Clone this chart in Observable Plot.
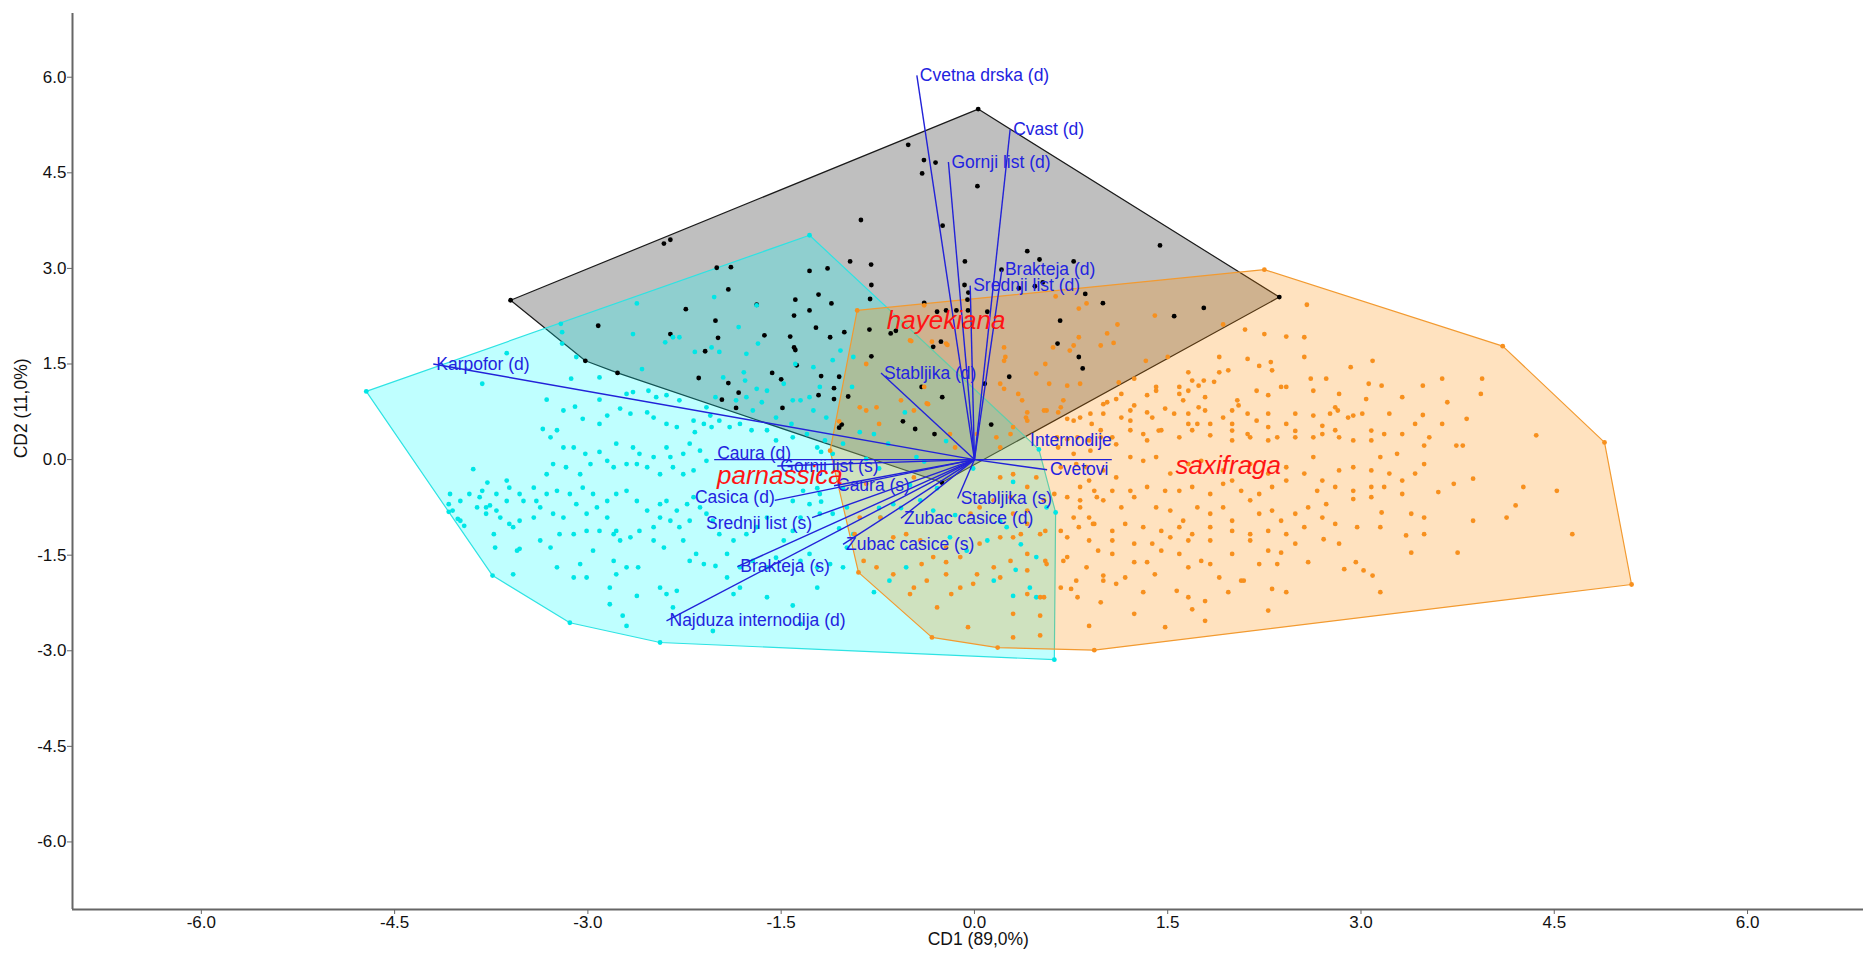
<!DOCTYPE html>
<html>
<head>
<meta charset="utf-8">
<script src="https://cdn.jsdelivr.net/npm/d3@7"></script>
<script src="https://cdn.jsdelivr.net/npm/@observablehq/plot@0.6"></script>
<style>
  html, body { margin: 0; padding: 0; background: #fff; }
  #chart svg { display: block; }
</style>
</head>
<body>
<div id="chart"></div>
<script>
// Canonical discriminant scores (CD1, CD2) for each specimen, by taxon
const hayekiana = [
  [-0.514,4.94],[-0.392,4.70],[-0.302,4.66],[-0.406,4.49],[0.023,4.29],[-0.881,3.76],[-0.247,3.67],[-2.41,3.39],[-2.36,3.45],[-0.965,3.11],
  [-0.802,3.06],[-0.074,3.11],[-2.00,3.01],[-1.89,3.02],[-1.28,2.96],[-1.14,3.00],[-0.80,2.74],[-0.077,2.74],[-1.91,2.67],[-1.21,2.59],
  [-0.81,2.52],[-1.39,2.51],[-1.11,2.45],[-1.69,2.43],[-0.39,2.46],[-0.29,2.32],[-1.40,2.26],[-1.28,2.34],[-0.22,2.34],[-0.14,2.34],
  [0.10,2.32],[-2.24,2.36],[-2.92,2.10],[-2.01,2.18],[-1.23,2.07],[-1.12,1.92],[-0.815,2.04],[-1.01,2.00],[-2.36,1.97],[-1.99,1.91],
  [-1.63,1.95],[-1.43,1.93],[-1.40,1.76],[-1.39,1.72],[-0.61,2.02],[-0.65,1.98],[-0.32,1.77],[-2.09,1.70],[-0.80,1.62],[-1.38,1.48],
  [-3.02,1.55],[-2.77,1.36],[-2.14,1.28],[-1.57,1.36],[-1.50,1.26],[-1.91,1.20],[-1.19,1.31],[-1.05,1.30],[-0.41,1.14],[-0.25,0.98],
  [0.08,1.19],[0.27,1.30],[-1.83,1.05],[-1.96,0.94],[-1.09,1.12],[-1.09,0.95],[-1.21,1.01],[-1.85,0.81],[-1.49,0.81],[-0.98,0.99],
  [-0.555,0.60],[-0.46,0.48],[-0.31,0.40],[0.13,0.55],[-1.03,0.55],[-1.05,0.50],
  [0.41,3.27],[0.505,3.14],[0.77,3.11],[0.21,2.98],[-0.047,2.62],[-0.054,2.51],[0.345,2.69],[0.469,2.72],[0.53,2.78],[0.86,2.60],
  [0.997,2.455],[-0.05,2.34],[0.665,2.18],[0.645,1.82],[-0.26,1.85],[0.81,1.61],
  [1.44,3.36],[1.55,2.25],[1.78,2.38],[2.366,2.55],[0.84,1.43],
  [0.029,5.50],[-3.60,2.50],[-0.253,-0.36]
];

const parnassica = [
  [-3.20,2.00],[-2.65,1.97],[-2.40,1.84],[-2.34,1.92],[-2.17,1.69],[-2.04,1.76],[-1.98,1.69],[-1.77,1.66],[-1.68,1.82],[-1.69,2.42],
  [-2.62,2.45],[-1.39,1.50],[-1.35,0.93],[-1.79,1.37],[-1.78,1.24],[-1.95,1.29],[-1.69,1.11],[-1.61,1.08],[-1.48,1.19],[-1.41,0.93],
  [-1.28,0.98],[-1.20,1.14],[-1.25,1.45],[-1.10,1.56],[-0.94,1.61],[-1.04,1.71],[-0.95,1.14],[-1.72,0.77],[-1.65,0.90],[-1.54,0.66],
  [-1.42,0.56],[-1.25,0.77],[-1.15,0.66],[-1.77,0.98],[-1.85,0.93],[-2.01,0.98],[-2.08,0.82],[-2.05,0.69],[-1.98,0.61],[-1.90,0.51],
  [-1.82,0.56],[-1.73,0.46],[-1.61,0.46],[-1.54,0.30],[-1.41,0.35],[-1.30,0.40],[-1.22,0.19],[-1.16,0.30],[-1.10,0.09],[-1.02,0.25],
  [-3.63,1.67],[-3.20,1.82],[-3.09,1.61],[-2.91,1.29],[-3.13,1.27],[-2.58,1.42],[-3.82,1.19],[-3.32,0.94],[-3.19,0.77],[-3.10,0.83],
  [-2.91,0.94],[-2.70,1.03],[-2.65,1.06],[-2.53,1.08],[-2.47,0.98],[-2.39,1.01],[-2.29,0.93],[-2.18,0.61],[-2.10,0.56],[-2.04,0.51],
  [-2.17,0.43],[-2.31,0.51],[-2.39,0.56],[-2.49,0.66],[-2.54,0.74],[-2.67,0.72],[-2.75,0.80],[-2.85,0.69],[-2.91,0.56],[-3.04,0.64],
  [-3.24,0.46],[-3.35,0.48],[-3.29,0.35],[-3.19,0.19],[-3.11,0.19],[-3.02,0.09],[-2.91,0.12],[-2.78,0.25],[-2.65,0.19],[-2.60,0.09],
  [-2.49,0.04],[-2.39,0.19],[-2.36,0.04],[-2.26,0.09],[-2.21,0.25],[-2.13,0.14],[-2.08,-0.02],[-2.18,-0.17],[-2.26,-0.23],[-2.34,-0.12],
  [-2.44,-0.23],[-2.54,-0.12],[-2.62,-0.07],[-2.70,-0.07],[-2.80,-0.12],[-2.85,-0.02],[-2.98,-0.07],[-3.06,-0.23],[-3.17,-0.12],[-3.27,-0.07],
  [-3.32,-0.23],[-3.42,-0.44],[-3.53,-0.54],[-3.63,-0.33],[-3.61,-0.44],[-3.71,-0.54],[-3.78,-0.36],[-3.89,-0.15],[-3.92,-0.54],[-4.07,-0.54],
  [-3.99,-0.65],[-3.84,-0.59],[-3.76,-0.72],[-3.71,-0.80],[-3.63,-0.65],[-3.50,-0.65],[-3.40,-0.65],[-3.32,-0.54],[-3.24,-0.49],[-3.14,-0.54],
  [-3.04,-0.44],[-2.96,-0.54],[-2.85,-0.65],[-2.78,-0.54],[-2.70,-0.49],[-2.62,-0.65],[-2.54,-0.80],[-2.44,-0.70],[-2.39,-0.65],[-2.31,-0.80],
  [-2.23,-0.70],[-2.18,-0.59],[-2.13,-0.75],[-2.08,-0.85],[-2.21,-0.96],[-2.29,-1.06],[-2.36,-0.96],[-2.44,-0.91],[-2.49,-1.06],[-2.60,-1.12],
  [-2.67,-1.22],[-2.78,-1.12],[-2.85,-0.91],[-2.93,-0.75],[-3.01,-0.85],[-3.09,-0.70],[-3.19,-0.91],[-3.27,-0.85],[-3.37,-0.75],[-3.42,-0.91],
  [-3.53,-0.96],[-3.61,-1.01],[-3.68,-0.91],[-3.79,-0.85],[-3.86,-0.75],[-3.99,-0.96],[-4.08,-0.70],[-3.73,-1.17],[-3.72,-1.38],[-3.53,-1.40],
  [-3.58,-1.06],[-3.37,-1.27],[-3.29,-1.38],[-3.22,-1.17],[-3.11,-1.17],[-3.01,-1.12],[-2.91,-1.12],[-2.80,-1.17],[-2.75,-1.27],[-2.49,-1.27],
  [-2.41,-1.38],[-2.26,-1.27],[-2.16,-1.48],[-2.21,-1.59],[-2.10,-1.64],[-2.01,-1.67],[-1.92,-1.48],[-1.82,-1.69],[-1.72,-1.59],[-1.61,-1.69],
  [-1.54,-1.54],[-1.35,-1.59],[-1.28,-1.48],[-1.22,-1.69],[-1.12,-1.64],[-1.02,-1.69],[-1.41,-1.12],[-1.48,-1.27],[-1.61,-0.91],[-1.69,-1.06],
  [-1.77,-1.17],[-1.87,-1.27],[-1.98,-1.17],[-2.03,-0.96],[-1.35,-0.91],[-1.20,-0.85],[-1.28,-0.70],[-1.41,-0.65],[-1.33,-0.49],[-1.20,-0.54],
  [-1.10,-0.85],[-0.99,-0.75],[-0.94,-1.17],[-0.99,-1.38],[-3.24,-1.69],[-3.06,-1.64],[-3.01,-1.85],[-3.11,-1.85],[-2.96,-1.43],[-2.80,-1.59],
  [-2.78,-1.80],[-2.70,-1.69],[-2.61,-1.69],[-2.83,-2.01],[-2.83,-2.27],[-2.73,-2.45],[-2.70,-2.61],[-2.62,-2.14],[-2.44,-2.01],[-2.39,-2.11],
  [-2.34,-2.32],[-2.31,-2.06],[-2.03,-2.69],[-1.61,-2.16],[-1.41,-2.29],[-1.35,-2.58],[-1.82,-2.01],[-1.87,-2.11],[-1.92,-1.85],[-1.22,-2.01],
  [-3.58,-1.80],[-4.05,-0.80],[-4.01,-0.93],[-3.82,-0.49],[-3.79,-0.75],[-3.96,-1.04],[-3.55,-1.43],
  [-0.89,0.43],[-0.78,0.40],[-0.54,0.74],[-0.45,0.04],[-0.63,-0.70],[-0.42,-0.64],[-0.73,-0.91],[-0.32,-0.80],[-0.19,-1.22],[-0.06,-1.43],
  [0.10,-1.27],[0.25,-1.06],[0.36,-1.33],[0.48,-1.53],[0.43,-2.01],[-0.53,-1.69],[-0.66,-1.90],[-0.78,-2.08],[0.15,-1.90],[0.30,-2.14],
  [0.32,-1.73],[0.48,-2.16],[0.56,-0.75],[-2.02,2.55],[-1.83,2.08],[-2.29,1.92],[-3.21,2.13],
  [-1.22,-0.45],[-1.02,-0.45],[-1.19,-0.66],[-1.05,-1.08],[-0.74,-0.76],[-0.57,-0.76],[-0.50,-0.40],[-0.84,0.01],[-1.19,0.12],[-0.74,-0.14],
  [-0.39,-0.03],[-0.22,0.29],[-0.67,0.25],[-0.29,-0.45],[-0.15,-0.87],[0.20,-0.97],[0.30,-0.35],[-0.01,-0.14],
  [-4.72,1.07],[-4.08,-0.82],[-3.74,-1.82],[-3.14,-2.56],[-2.44,-2.87],[0.62,-3.14],[0.63,-0.83],[0.50,0.16],[-1.28,3.52]
];

const saxifraga = [
  [0.72,1.16],[1.00,0.87],[1.10,0.95],[1.34,1.01],[1.41,1.14],[1.59,1.03],[1.66,1.08],[1.74,1.16],[1.86,1.22],[2.04,0.93],
  [2.05,0.85],[2.19,1.08],[2.28,1.01],[2.38,1.14],[2.63,1.08],[2.83,1.03],[3.04,0.95],[3.16,1.16],[3.32,0.98],[3.48,1.16],
  [3.67,0.90],[3.93,1.03],[3.82,0.64],[3.63,0.56],[3.48,0.70],
  [0.82,0.66],[1.00,0.72],[1.14,0.66],[1.21,0.77],[1.34,0.74],[1.48,0.80],[1.55,0.72],[1.66,0.72],[1.79,0.77],[1.73,0.56],
  [1.83,0.56],[1.93,0.66],[2.00,0.56],[2.12,0.72],[2.19,0.61],[2.28,0.51],[2.42,0.56],[2.49,0.72],[2.63,0.69],[2.76,0.72],
  [2.80,0.82],[2.90,0.66],[3.22,0.72],[3.42,0.56],[4.36,0.38],[3.74,0.22],[3.79,0.22],[3.49,0.22],[3.28,0.09],[3.18,0.40],
  [3.08,0.30],[2.94,0.30],[2.80,0.46],[2.70,0.40],[2.63,0.35],[2.49,0.35],[2.28,0.30],[2.12,0.40],[2.00,0.30],[1.83,0.38],
  [1.69,0.46],[1.59,0.35],[1.45,0.46],[1.31,0.40],[1.21,0.46],[1.07,0.35],[0.89,0.30],[0.72,0.32],[0.65,0.19],
  [0.79,-0.07],[0.89,-0.33],[1.10,-0.28],[1.21,0.04],[1.31,-0.02],[1.41,0.04],[1.52,-0.22],[1.66,-0.07],[1.76,-0.02],[1.93,-0.17],
  [2.00,-0.33],[2.14,-0.07],[2.28,-0.22],[2.42,-0.12],[2.56,-0.22],[2.63,0.04],[2.70,-0.33],[2.83,-0.17],[2.94,-0.12],[3.08,-0.17],
  [3.15,0.04],[3.22,-0.22],[3.32,-0.33],[3.42,-0.22],[3.49,-0.07],[3.60,-0.51],[3.72,-0.38],[3.87,-0.30],[4.26,-0.43],[4.52,-0.49],
  [3.32,-0.54],[3.18,-0.43],[3.08,-0.43],[2.94,-0.49],[2.80,-0.43],[2.66,-0.49],[2.42,-0.33],[2.31,-0.43],[2.21,-0.54],[2.07,-0.49],
  [1.93,-0.38],[1.83,-0.54],[1.69,-0.43],[1.59,-0.49],[1.48,-0.49],[1.34,-0.43],[1.21,-0.49],[1.07,-0.49],[0.93,-0.49],[0.82,-0.43],
  [0.62,-0.54],[0.72,-0.59],[0.82,-0.75],[0.89,-0.91],[1.00,-0.64],[1.14,-0.75],[1.24,-0.59],[1.41,-0.75],[1.52,-0.80],[1.62,-0.96],
  [1.73,-0.75],[1.83,-0.85],[1.93,-0.75],[2.00,-0.96],[2.14,-0.64],[2.21,-0.85],[2.31,-0.80],[2.38,-0.96],[2.49,-0.85],[2.59,-0.75],
  [2.73,-0.70],[2.80,-1.01],[2.97,-1.06],[3.15,-1.06],[3.16,-0.83],[3.39,-0.85],[3.49,-0.91],[3.87,-0.96],[4.13,-0.91],[4.20,-0.72],
  [4.64,-1.17],[3.35,-1.19],[3.49,-1.17],[3.08,-0.59],[2.94,-0.62],[2.70,-0.91],[2.56,-1.06],[2.42,-1.17],[2.28,-1.12],[2.14,-1.17],
  [2.00,-1.12],[1.83,-1.06],[1.69,-1.17],[1.59,-1.06],[1.45,-1.12],[1.31,-1.06],[1.17,-1.01],[1.07,-1.12],[0.93,-1.01],[0.81,-1.06],
  [0.72,-1.22],[0.55,-1.12],[0.41,-1.01],[0.30,-1.22],
  [0.41,-1.48],[0.55,-1.59],[0.69,-1.59],[0.89,-1.27],[0.96,-1.43],[1.07,-1.48],[1.24,-1.61],[1.34,-1.61],[1.45,-1.43],[1.59,-1.48],
  [1.66,-1.69],[1.76,-1.59],[1.83,-1.64],[1.90,-1.85],[2.00,-1.48],[2.07,-1.90],[2.21,-1.64],[2.35,-1.64],[2.38,-1.46],[2.59,-1.61],
  [2.71,-1.25],[2.83,-1.32],[2.96,-1.61],[3.02,-1.74],[3.09,-1.82],[3.39,-1.46],[3.75,-1.46],[2.49,-1.32],[2.28,-1.43],[2.14,-1.27],
  [1.83,-1.27],[1.66,-1.27],[1.52,-1.22],[1.38,-1.32],[1.24,-1.32],[1.07,-1.27],
  [0.51,-2.16],[0.30,-2.42],[0.51,-2.45],[0.51,-2.76],[0.30,-2.79],[0.79,-1.90],[0.89,-2.61],[0.98,-2.24],[1.00,-1.82],[1.10,-1.95],
  [1.24,-2.42],[1.31,-2.08],[1.40,-1.80],[1.48,-2.63],[1.57,-2.06],[1.66,-2.16],[1.69,-2.35],[1.79,-2.22],[1.79,-2.53],[1.97,-2.08],
  [2.09,-1.90],[2.28,-2.37],[2.31,-2.03],[2.42,-2.08],[2.87,-1.72],[3.15,-2.08],[1.17,-1.85],[0.75,-2.03],[0.41,-2.11],
  [0.63,2.56],[0.81,2.37],[1.40,2.26],[1.93,2.12],[2.10,2.04],[2.25,1.97],[2.42,1.93],[2.56,1.92],[2.58,2.43],[1.11,2.12],
  [1.03,1.98],[0.98,1.79],[0.81,1.92],[0.74,1.71],[0.55,1.50],[0.48,1.35],[0.23,1.11],[0.41,0.74],[0.56,0.77],[0.65,0.74],
  [0.72,0.64],[0.91,0.56],[0.98,0.35],[1.03,0.90],[1.14,1.03],[1.12,1.21],[1.24,1.27],[1.33,1.55],[1.50,1.61],[1.66,1.37],
  [1.69,1.24],[1.78,1.24],[1.90,1.37],[1.97,1.40],[1.90,1.61],[2.12,1.58],[2.21,1.47],[2.30,1.53],[2.31,1.40],[2.42,1.14],
  [2.56,1.61],[2.61,1.27],[2.73,1.27],[2.92,1.45],[3.09,1.55],[3.06,1.19],[3.63,1.27],[3.94,1.27],[2.82,0.77],[2.94,0.69],
  [3.01,0.72],[2.70,0.53],[2.49,0.45],[2.28,0.72],[2.00,0.77],[1.79,0.98],[1.74,0.82],[1.59,1.14],[1.62,0.93],[1.41,1.08],
  [1.38,0.66],[1.24,0.85],[1.21,0.61],[1.43,0.455],[1.66,0.56],[2.00,0.455],[2.14,0.35],[2.35,0.35],[2.83,0.35],[3.08,0.455],
  [3.32,0.40],[3.53,0.35],[0.58,1.19],[0.37,0.93],[0.30,0.51],[0.69,0.93],[0.82,1.19],[1.10,0.24],[1.34,0.30],
  [0.87,2.45],[1.08,1.83],[0.77,1.79],[0.61,1.76],[0.24,1.61],[-0.21,1.80],[-0.33,1.85],[-0.49,1.86],
  [-0.89,0.82],[-0.76,0.82],[-0.47,0.77],[-0.37,0.88],[-0.19,0.40],[0.17,0.35],[0.28,0.40],[0.41,0.61],[0.54,0.77],[0.67,0.82],
  [0.77,0.61],[0.90,0.72],[0.98,0.46],[0.80,0.35],[0.64,0.35],[0.77,0.09],[0.90,0.14],[0.67,-0.12],[0.87,-0.12],[1.00,-0.17],
  [0.20,-0.28],[0.30,-0.23],[0.41,-0.43],[0.48,-0.28],[0.28,-0.59],[0.15,-0.64],[0.04,-0.75],[-0.03,-0.85],[0.30,-0.85],[0.41,-0.80],
  [0.54,-0.64],[0.82,-0.64],[0.95,-0.59],[0.77,-0.91],[0.92,-1.01],[0.67,-1.12],[0.51,-1.17],[0.36,-1.17],[0.20,-1.22],[0.04,-1.32],
  [-0.11,-1.53],[-0.22,-1.38],[-0.32,-1.53],[-0.42,-1.27],[-0.53,-1.17],[-0.63,-1.22],[-0.73,-0.91],[-0.89,-0.91],[-0.93,-1.17],[-0.86,-1.59],
  [-0.76,-1.69],[-0.63,-1.80],[-0.47,-2.01],[-0.37,-1.90],[-0.22,-1.80],[-0.11,-2.01],[0.02,-1.80],[0.15,-1.69],[0.28,-1.59],[0.41,-1.74],
  [0.56,-1.64],[0.72,-1.53],[0.87,-1.69],[1.00,-1.90],[0.67,-2.01],[0.54,-2.16],[0.80,-2.16],[-0.84,-0.38],[-0.47,-0.28],
  [-0.41,-1.64],[-0.22,-1.61],[-0.01,-1.95],[0.20,-1.85],[-0.29,-2.32],[-0.18,-2.11],[-0.50,-2.11],[-0.05,-2.63],
  [-0.39,2.42],[-0.50,1.87],[-0.22,1.82],[-0.84,1.50],[-0.39,1.14],[-0.36,0.87],[0.23,1.76],[0.20,1.19],[0.34,1.03],[0.23,1.55],
  [0.40,0.66],[-0.84,0.77],[-0.74,0.56],[0.20,0.19],[-0.15,0.19],[-0.57,0.93],[0.02,0.40],
  [-0.91,2.34],[2.25,2.98],[4.10,1.78],[4.89,0.27],[5.10,-1.96],[0.93,-2.99],[0.18,-2.95],[-0.33,-2.79],[-0.90,-1.77],[-1.12,0.14],[-1.05,0.60]
];

// Group centroids, where the taxon names are written
const groupNames = ["hayekiana", "parnassica", "saxifraga"];
const groupCentroidX = [-0.22, -1.51, 1.97];
const groupCentroidY = [2.18, -0.25, -0.09];

// Loadings of the measured characters (biplot vectors)
const vectorNames = [
  "Cvetna drska (d)", "Cvast (d)", "Gornji list (d)", "Brakteja (d)", "Srednji list (d)",
  "Karpofor (d)", "Stabljika (d)", "Caura (d)", "Gornji list (s)", "Caura (s)",
  "Casica (d)", "Srednji list (s)", "Zubac casice (d)", "Stabljika (s)", "Zubac casice (s)",
  "Brakteja (s)", "Najduza internodija (d)", "Internodije", "Cvetovi"
];
const vectorCD1 = [-0.447, 0.277, -0.202, 0.213, -0.033, -4.20, -0.725, -2.02, -1.53, -1.09,
                   -1.55, -1.26, -0.57, -0.13, -1.02, -1.84, -2.39, 1.066, 0.564];
const vectorCD2 = [6.03, 5.18, 4.67, 2.98, 2.73, 1.50, 1.36, 0.0, -0.10, -0.41,
                   -0.64, -0.91, -0.92, -0.61, -1.33, -1.68, -2.53, 0.0, -0.16];

// Axis ticks and titles
const tickValues = [-6, -4.5, -3, -1.5, 0, 1.5, 3, 4.5, 6];
const xTitle = "CD1 (89,0%)";
const yTitle = "CD2 (11,0%)";

// Label nudges for the few vector names that sit beside their line ends
const labelNudge = {
  "Caura (d)": {anchor: "start", dx: 3, dy: -6},
  "Casica (d)": {anchor: "end", dx: 0, dy: -3},
  "Srednji list (s)": {anchor: "end", dx: 0, dy: 6},
  "Internodije": {anchor: "end", dx: 0, dy: -19}
};

const toRows = (pts) => pts.map(([x, y]) => ({x, y}));
const hay = toRows(hayekiana);
const par = toRows(parnassica);
const sax = toRows(saxifraga);
const vectors = vectorNames.map((name, i) => ({name, x: vectorCD1[i], y: vectorCD2[i]}));
const groups = groupNames.map((name, i) => ({name, x: groupCentroidX[i], y: groupCentroidY[i]}));

const xDomain = [-7.0, 6.9];
const yDomain = [-7.06, 7.0];
const font = "'Liberation Sans', Arial, Helvetica, sans-serif";
const vecColor = "#2222d8";

const vectorLabels = vectors.map(v => {
  const n = labelNudge[v.name] || {anchor: "start", dx: 3, dy: 0};
  return Plot.text([v], {
    x: "x", y: "y", text: "name",
    textAnchor: n.anchor, dx: n.dx, dy: n.dy,
    fill: "#2323e0", fontSize: 17.5, fontFamily: font
  });
});

const chart = Plot.plot({
  width: 1863,
  height: 953,
  marginLeft: 72,
  marginTop: 13,
  marginRight: 0,
  marginBottom: 44,
  x: {domain: xDomain},
  y: {domain: yDomain},
  style: {fontFamily: font, fontSize: "17px", background: "#fff", color: "#111"},
  marks: [
    // convex hulls of the three taxa
    Plot.hull(hay, {x: "x", y: "y", fill: "#000", fillOpacity: 0.25, stroke: "#1a1a1a", strokeWidth: 1.2}),
    Plot.hull(par, {x: "x", y: "y", fill: "#00ffff", fillOpacity: 0.25, stroke: "#2ee3e3", strokeWidth: 1.2}),
    Plot.hull(sax, {x: "x", y: "y", fill: "#ff8c00", fillOpacity: 0.25, stroke: "#f29a30", strokeWidth: 1.2}),
    // specimens
    Plot.dot(hay, {x: "x", y: "y", r: 2.4, fill: "#000"}),
    Plot.dot(par, {x: "x", y: "y", r: 2.4, fill: "#00e6e6"}),
    Plot.dot(sax, {x: "x", y: "y", r: 2.4, fill: "#f7901e"}),
    // character vectors from the origin
    Plot.link(vectors, {x1: 0, y1: 0, x2: "x", y2: "y", stroke: vecColor, strokeWidth: 1.4}),
    ...vectorLabels,
    // taxon names
    Plot.text(groups, {x: "x", y: "y", text: "name", fill: "#ff1414", fontSize: 26, fontStyle: "italic", fontFamily: font}),
    // axes
    Plot.ruleX([xDomain[0]], {stroke: "#666", strokeWidth: 2}),
    Plot.ruleY([yDomain[0]], {stroke: "#666", strokeWidth: 2}),
    Plot.axisX({ticks: tickValues, tickFormat: d => d.toFixed(1), tickSize: 5, tickPadding: 1, label: null, stroke: "#666", fill: "#111", fontSize: 17}),
    Plot.axisY({ticks: tickValues, tickFormat: d => d.toFixed(1), tickSize: 5, tickPadding: 1, label: null, stroke: "#666", fill: "#111", fontSize: 17}),
    Plot.text([xTitle], {x: () => 0.03, frameAnchor: "bottom", dy: 35, text: d => d, fontSize: 17.5, fill: "#111"}),
    Plot.text([yTitle], {y: () => 0.02, frameAnchor: "left", dx: -51, rotate: -90, text: d => d, fontSize: 17.5, fill: "#111"})
  ]
});

document.getElementById("chart").appendChild(chart);
</script>
</body>
</html>
